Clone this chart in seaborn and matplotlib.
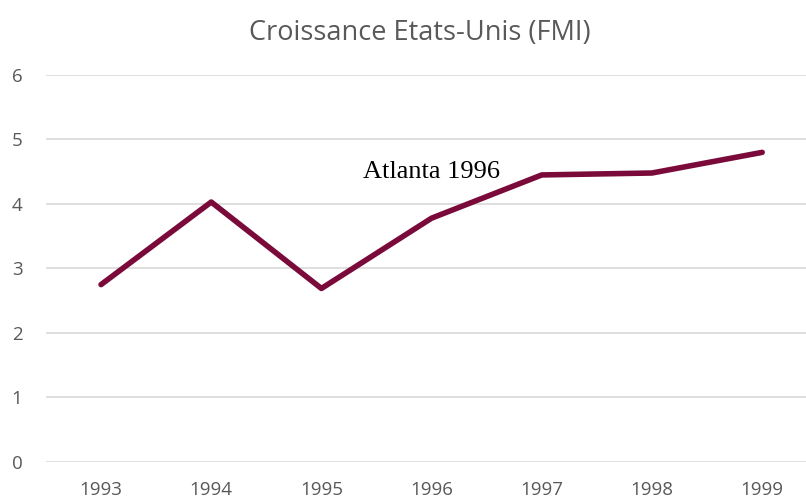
import pandas as pd
import seaborn as sns
import matplotlib.pyplot as plt

years = ["1993", "1994", "1995", "1996", "1997", "1998", "1999"]
growth = [2.75, 4.03, 2.69, 3.78, 4.45, 4.48, 4.80]
y_ticks = [0, 1, 2, 3, 4, 5, 6]

df = pd.DataFrame({"Année": years, "Croissance": growth})

sns.set_theme(style="white")
plt.rcParams["font.family"] = ["Open Sans", "DejaVu Sans"]

fig = plt.figure(figsize=(8.06, 5.03), dpi=100)
ax = fig.add_axes([0.057, 0.0815, 0.957, 0.7695])

sns.lineplot(data=df, x="Année", y="Croissance", sort=False,
             color="#7a0a3a", linewidth=4, ax=ax)

ax.set_xlim(-0.5, len(years) - 0.5)
ax.set_ylim(0, 6)
ax.set_yticks(y_ticks)
ax.grid(axis="y", color="#d9d9d9", linewidth=1.2)
ax.set_axisbelow(True)
ax.tick_params(axis="both", length=0, labelsize=13.5, colors="#595959")
ax.tick_params(axis="x", pad=14)
ax.tick_params(axis="y", pad=17)
for s in ax.spines.values():
    s.set_visible(False)
ax.set_xlabel("")
ax.set_ylabel("")

ax.text(3, 4.5, "Atlanta 1996", ha="center", va="center",
        fontsize=19, family="Liberation Serif", color="black")

fig.suptitle("Croissance Etats-Unis (FMI)", x=0.521, y=0.962,
             fontsize=19.5, color="#595959")

fig.savefig("out.png", dpi=100)
